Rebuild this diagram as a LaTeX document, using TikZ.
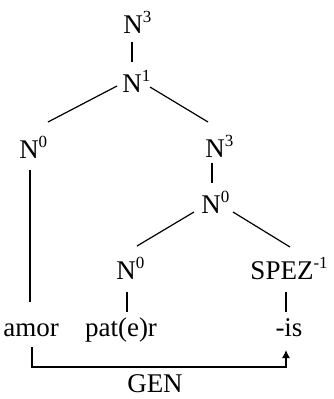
\documentclass[tikz,border=0pt]{standalone}
\usepackage{fontspec}
\setmainfont{Liberation Serif}
\usetikzlibrary{arrows.meta}
\newcommand\supx[1]{\rlap{\raisebox{11pt}{\fontsize{17}{17}\selectfont #1}}}
\begin{document}
\begin{tikzpicture}[x=1pt,y=-1pt,
  lab/.style={inner sep=0pt,anchor=base,font=\fontsize{27}{32}\selectfont},
  con/.style={line width=1.2pt}]
\useasboundingbox (0,0) rectangle (333,399);
\node[lab] (t) at (133,33) {N\supx{3}};
\node[lab] (n1) at (132,92) {N\supx{1}};
\node[lab] (n0L) at (29,158) {N\supx{0}};
\node[lab] (n3R) at (215,157) {N\supx{3}};
\node[lab] (n0M) at (211,213) {N\supx{0}};
\node[lab] (n0B) at (126,279) {N\supx{0}};
\node[lab] (spez) at (282,279) {SPEZ\supx{-1}};
\node[lab] (amor) at (31,336) {amor};
\node[lab] (pater) at (121,336) {pat(e)r};
\node[lab] (is) at (289,336) {-is};
\node[lab] (gen) at (155,392) {GEN};
\draw[con] ([shift={(-1,9)}]t.base) -- ([shift={(0,-30)}]n1.base);
\draw[con] ([shift={(-15,-6)}]n1.base) -- ([shift={(19,-36)}]n0L.base);
\draw[con] ([shift={(18,-5)}]n1.base) -- ([shift={(-7,-35)}]n3R.base);
\draw[con] ([shift={(1,12)}]n0L.base) -- ([shift={(-1,-34)}]amor.base);
\draw[con] ([shift={(-3,6)}]n3R.base) -- ([shift={(1,-30)}]n0M.base);
\draw[con] ([shift={(-17,-1)}]n0M.base) -- ([shift={(11,-33)}]n0B.base);
\draw[con] ([shift={(22,-1)}]n0M.base) -- ([shift={(8,-32)}]spez.base);
\draw[con] ([shift={(1,13)}]n0B.base) -- ([shift={(6,-24)}]pater.base);
\draw[con] ([shift={(4,13)}]spez.base) -- ([shift={(-3,-24)}]is.base);
\draw[con,-{Latex[length=8pt,width=8pt]}] ([shift={(1,11)}]amor.base) |- ([shift={(-3,31)}]is.base) -- ([shift={(-3,14)}]is.base);
\end{tikzpicture}
\end{document}
